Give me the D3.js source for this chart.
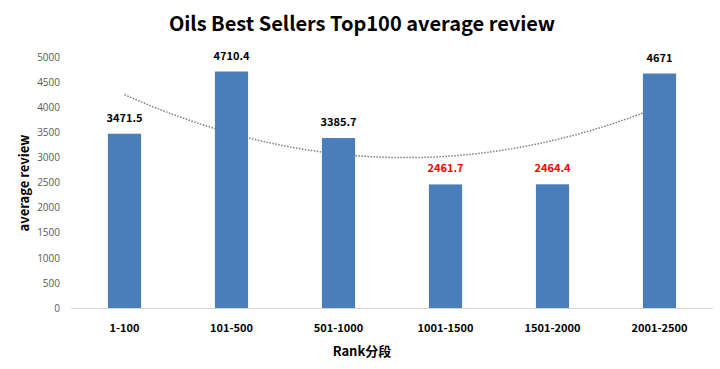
<!DOCTYPE html>
<html>
<head>
<meta charset="utf-8">
<script src="https://cdn.jsdelivr.net/npm/d3@7"></script>
<style>
  body { margin: 0; background: #fff; }
  text { font-family: "Noto Sans CJK SC", "Open Sans", sans-serif; }
</style>
</head>
<body>
<div id="chart"></div>
<script>
// chart data
const categories = ['1-100', '101-500', '501-1000', '1001-1500', '1501-2000', '2001-2500'];
const values = [3471.5, 4710.4, 3385.7, 2461.7, 2464.4, 4671];
const labelColors = ['#000', '#000', '#000', '#ff0000', '#ff0000', '#000'];
const yTicks = [0, 500, 1000, 1500, 2000, 2500, 3000, 3500, 4000, 4500, 5000];

const width = 720, height = 369;

const svg = d3.select('#chart')
    .append('svg')
    .attr('width', width)
    .attr('height', height);

var x = d3.scaleBand()
    .domain(categories)
    .range([71, 713])
    .paddingInner(0.69)
    .paddingOuter(0.345);

var y = d3.scaleLinear()
    .domain([0, 5000])
    .range([308, 57]);

// Y axis labels
svg.append('g')
    .attr('transform', 'translate(60,0)')
    .call(d3.axisLeft(y).tickValues(yTicks).tickFormat(d3.format('d')).tickSize(0).tickPadding(0))
    .call(g => g.select('.domain').remove())
    .selectAll('text')
    .attr('fill', '#595959')
    .style('font-size', '10px')
    .style('font-family', '"Open Sans", sans-serif');

// polynomial (order 2) trendline, least squares fit of the data
const n = values.length;
const xs = values.map((d, i) => i + 1);
const xm = d3.mean(xs);
const t = xs.map(v => v - xm);
const s2 = d3.sum(t, v => v * v);
const s4 = d3.sum(t, v => v * v * v * v);
const sy = d3.sum(values);
const sty = d3.sum(t, (v, i) => v * values[i]);
const st2y = d3.sum(t, (v, i) => v * v * values[i]);
const c = (st2y - s2 * sy / n) / (s4 - s2 * s2 / n);
const a = (sy - c * s2) / n;
const b = sty / s2;

const trend = d3.range(0, n - 1 + 0.001, 0.05).map(k => {
    const tt = k + 1 - xm;
    return { k: k, v: a + b * tt + c * tt * tt };
});
const xc = k => x(categories[0]) + x.bandwidth() / 2 + k * x.step();

svg.append('path')
    .datum(trend)
    .attr('fill', 'none')
    .attr('stroke', '#7f7f7f')
    .attr('stroke-width', 1.5)
    .attr('stroke-dasharray', '1.5,1.5')
    .attr('d', d3.line().x(d => xc(d.k)).y(d => y(d.v)));

// bars
svg.selectAll('rect.bar')
    .data(values)
    .enter()
    .append('rect')
    .attr('class', 'bar')
    .attr('x', (d, i) => x(categories[i]))
    .attr('y', d => y(d))
    .attr('width', x.bandwidth())
    .attr('height', d => y(0) - y(d))
    .attr('fill', '#4a7ebb');

// x axis line
svg.append('line')
    .attr('x1', 71).attr('x2', 713)
    .attr('y1', y(0) + 0.5).attr('y2', y(0) + 0.5)
    .attr('stroke', '#d9d9d9');

// value labels
svg.selectAll('text.val')
    .data(values)
    .enter()
    .append('text')
    .attr('class', 'val')
    .attr('x', (d, i) => x(categories[i]) + x.bandwidth() / 2)
    .attr('y', d => y(d) - 12)
    .attr('text-anchor', 'middle')
    .attr('fill', (d, i) => labelColors[i])
    .style('font-size', '11px')
    .style('font-weight', 'bold')
    .text(d => d);

// x tick labels
svg.selectAll('text.cat')
    .data(categories)
    .enter()
    .append('text')
    .attr('class', 'cat')
    .attr('x', d => x(d) + x.bandwidth() / 2)
    .attr('y', 332)
    .attr('text-anchor', 'middle')
    .attr('fill', '#000')
    .style('font-size', '11px')
    .style('font-weight', 'bold')
    .text(d => d);

// titles
svg.append('text')
    .attr('x', 362)
    .attr('y', 31)
    .attr('text-anchor', 'middle')
    .style('font-size', '20px')
    .style('font-weight', 'bold')
    .text('Oils Best Sellers Top100 average review');

svg.append('text')
    .attr('x', 362)
    .attr('y', 356)
    .attr('text-anchor', 'middle')
    .style('font-size', '13px')
    .style('font-weight', 'bold')
    .text('Rank分段');

svg.append('text')
    .attr('transform', 'translate(29,183) rotate(-90)')
    .attr('text-anchor', 'middle')
    .style('font-size', '13px')
    .style('font-weight', 'bold')
    .text('average review');
</script>
</body>
</html>
